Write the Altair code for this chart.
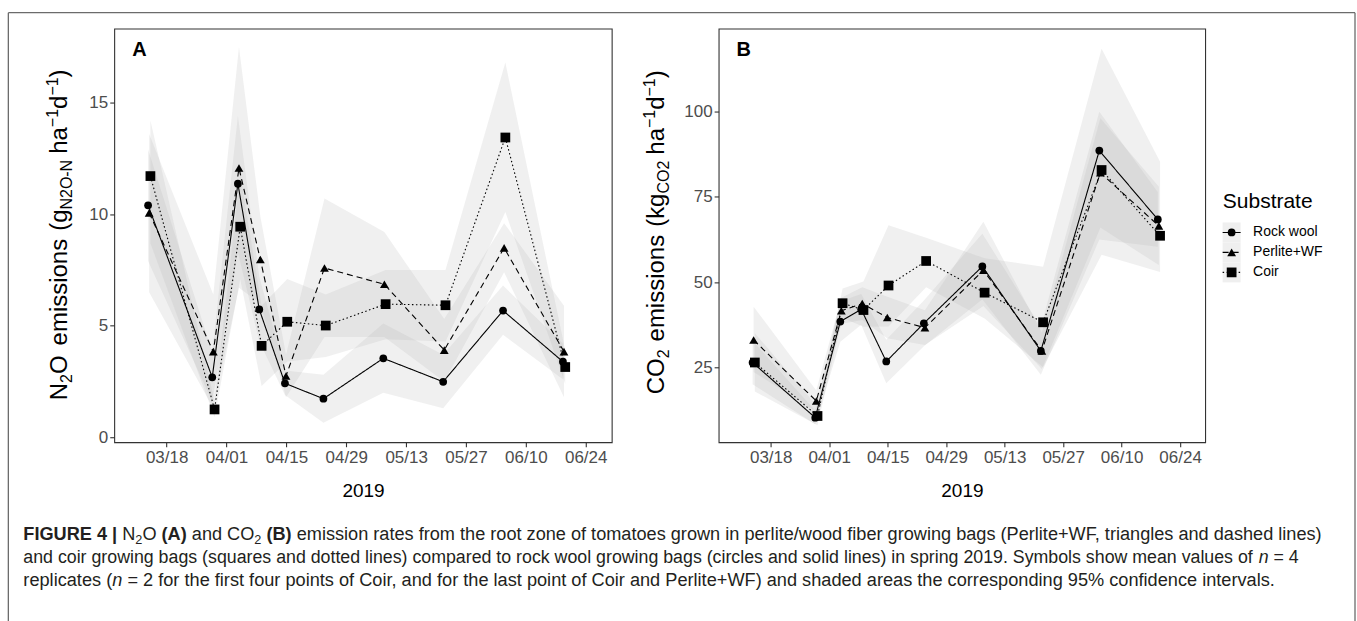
import altair as alt
import pandas as pd

# ---------------- data ----------------
SERIES = ["Rock wool", "Perlite+WF", "Coir"]
SAMPLE_DATES = ["2019-03-14", "2019-03-29", "2019-04-04", "2019-04-09", "2019-04-15",
                "2019-04-24", "2019-05-08", "2019-05-22", "2019-06-05", "2019-06-19"]
TICK_DATES = [(3, 18), (4, 1), (4, 15), (4, 29), (5, 13), (5, 27), (6, 10), (6, 24)]

# Panel A: N2O (g N2O-N ha-1 d-1)
N2O_MEAN = {
    "Rock wool":  [10.40, 2.69, 11.37, 5.73, 2.42, 1.73, 3.54, 2.49, 5.68, 3.39],
    "Perlite+WF": [10.06, 3.84, 12.07, 7.97, 2.75, 7.59, 6.86, 3.91, 8.49, 3.84],
    "Coir":       [11.71, 1.25, 9.44, 4.10, 5.18, 5.01, 5.97, 5.92, 13.44, 3.15],
}
N2O_LO = {
    "Rock wool":  [7.9, 1.6, 8.3, 4.3, 1.9, 0.65, 2.0, 1.3, 4.6, 2.6],
    "Perlite+WF": [6.5, 1.3, 6.7, 6.0, 1.8, 4.5, 4.5, 2.5, 7.4, 1.8],
    "Coir":       [8.7, 0.9, 7.1, 2.3, 3.4, 3.6, 4.4, 4.3, 10.1, 2.4],
}
N2O_HI = {
    "Rock wool":  [12.9, 3.8, 14.4, 7.2, 3.0, 2.8, 5.1, 3.7, 6.8, 4.2],
    "Perlite+WF": [13.6, 6.4, 17.5, 9.9, 3.7, 10.7, 9.2, 5.3, 9.6, 5.9],
    "Coir":       [14.2, 1.6, 11.8, 5.9, 7.1, 6.4, 7.5, 7.5, 16.8, 3.9],
}

# Panel B: CO2 (kg CO2 ha-1 d-1)
CO2_MEAN = {
    "Rock wool":  [26.4, 10.2, 38.4, 42.0, 26.7, 37.9, 54.6, 29.8, 88.6, 68.4],
    "Perlite+WF": [33.0, 15.1, 41.6, 43.7, 39.6, 36.6, 53.5, 29.8, 82.1, 66.5],
    "Coir":       [26.4, 10.7, 43.8, 41.8, 49.0, 56.2, 46.9, 38.2, 82.9, 63.6],
}
CO2_LO = {
    "Rock wool":  [20.0, 8.3, 32.5, 37.5, 20.3, 31.2, 45.0, 22.8, 62.5, 60.4],
    "Perlite+WF": [23.6, 12.0, 37.8, 38.9, 33.5, 31.5, 43.0, 24.5, 66.0, 55.0],
    "Coir":       [17.9, 8.0, 39.5, 36.9, 37.0, 48.5, 39.3, 25.0, 58.0, 53.0],
}
CO2_HI = {
    "Rock wool":  [32.8, 12.2, 44.3, 46.5, 33.1, 44.6, 64.2, 36.8, 100.0, 76.4],
    "Perlite+WF": [42.8, 18.2, 45.4, 48.5, 45.7, 41.7, 67.7, 35.1, 98.1, 78.0],
    "Coir":       [35.0, 13.4, 48.1, 50.2, 66.7, 63.0, 57.0, 54.5, 118.5, 85.3],
}

A_YTICKS = [0, 5, 10, 15]
B_YTICKS = [25, 50, 75, 100]

CAPTION_LINES = [
    [("FIGURE 4 |", "b"), (" N", "r"), ("2", "sub"), ("O", "r"), (" (A)", "b"),
     (" and CO", "r"), ("2", "sub"), (" (B)", "b"),
     (" emission rates from the root zone of tomatoes grown in perlite/wood fiber growing bags "
      "(Perlite+WF, triangles and dashed lines)", "r")],
    [("and coir growing bags (squares and dotted lines) compared to rock wool growing bags "
      "(circles and solid lines) in spring 2019. Symbols show mean values of", "r"),
     (" n", "i"), (" = 4", "r")],
    [("replicates (", "r"), ("n", "i"),
     (" = 2 for the first four points of Coir, and for the last point of Coir and Perlite+WF) "
      "and shaded areas the corresponding 95% confidence intervals.", "r")],
]

# ---------------- styling / layout ----------------
FONT = "Liberation Sans"
DODGE_HOURS = {"Rock wool": -8, "Perlite+WF": -2, "Coir": 5}
DASHES = [[1, 0], [6, 4], [1.5, 2.5]]
SHAPES = ["circle", "triangle-up", "square"]
SIZES = [60, 95, 56]
PLOT_H = 414
A_LEFT, A_TOP = 113, 27     # page position of panel A's plot area
B_LEFT = 718
CAP_SIZES = [18.17, 17.8, 18.2]

# Arial / Liberation Sans advance widths (1/1000 em) for text layout
W = {' ': 278, '!': 278, '%': 889, '(': 333, ')': 333, '+': 584, ',': 278, '-': 333, '.': 278,
     '/': 278, ':': 278, '=': 584, '|': 260, '\u2212': 584,
     'A': 667, 'B': 667, 'C': 722, 'D': 722, 'E': 667, 'F': 611, 'G': 778, 'H': 722, 'I': 278,
     'J': 500, 'K': 667, 'L': 556, 'M': 833, 'N': 722, 'O': 778, 'P': 667, 'Q': 778, 'R': 722,
     'S': 667, 'T': 611, 'U': 722, 'V': 667, 'W': 944, 'X': 667, 'Y': 667, 'Z': 611,
     'a': 556, 'b': 556, 'c': 500, 'd': 556, 'e': 556, 'f': 278, 'g': 556, 'h': 556, 'i': 222,
     'j': 222, 'k': 500, 'l': 222, 'm': 833, 'n': 556, 'o': 556, 'p': 556, 'q': 556, 'r': 333,
     's': 500, 't': 278, 'u': 556, 'v': 500, 'w': 722, 'x': 500, 'y': 500, 'z': 500}
for _c in "0123456789":
    W[_c] = 556
WB = dict(W)
WB.update({'A': 722, 'B': 722, '|': 280})


def text_width(s, size, bold=False):
    tab = WB if bold else W
    return sum(tab.get(c, 556) for c in s) / 1000.0 * size


def make_frame(mean, lo, hi):
    rows = []
    for s in SERIES:
        for i, d in enumerate(SAMPLE_DATES):
            t = pd.Timestamp(d) + pd.Timedelta(hours=DODGE_HOURS[s])
            rows.append({"Substrate": s, "date": t.strftime("%Y-%m-%dT%H:%M:%S"),
                         "value": mean[s][i], "lo": lo[s][i], "hi": hi[s][i]})
    return pd.DataFrame(rows)


ONE = pd.DataFrame({"k": [0]})


def text_piece(txt, x, y, size, angle=0, weight="normal", style="normal",
               align="left", color="black"):
    kw = dict(text=txt, fontSize=size, font=FONT, align=align, baseline="alphabetic",
              fontWeight=weight, fontStyle=style, color=color)
    if angle:
        kw["angle"] = angle
    return alt.Chart(ONE).mark_text(**kw).encode(x=alt.value(x), y=alt.value(y))


def rotated_title(pieces, start_y, base_x, size=24, small=16):
    """pieces: (text, kind) kind in r / sub / sup / gap(n px)"""
    out = []
    y = start_y
    for txt, kind in pieces:
        if kind == "gap":
            y -= txt
            continue
        fs = size if kind == "r" else small
        shift = {"r": 0, "sub": 5, "sup": -9}[kind]
        out.append(text_piece(txt, base_x + shift, y, fs, angle=270))
        y -= text_width(txt, fs)
    return out


def caption_layers(lines, x0, baselines, sizes, color="#231f20"):
    out = []
    for segs, yb, size in zip(lines, baselines, sizes):
        x = x0
        for txt, kind in segs:
            bold = kind == "b"
            fs = size * 0.7 if kind == "sub" else size
            yy = yb + size * 0.22 if kind == "sub" else yb
            lead = len(txt) - len(txt.lstrip(" "))
            x += text_width(" " * lead, fs, bold)
            body = txt.lstrip(" ")
            out.append(text_piece(body, x, yy, fs,
                                  weight="bold" if bold else "normal",
                                  style="italic" if kind == "i" else "normal", color=color))
            x += text_width(body, fs, bold)
    return out


def xenc(xdom):
    return alt.X("date:T",
                 scale=alt.Scale(domain=xdom, nice=False),
                 axis=alt.Axis(values=[alt.DateTime(year=2019, month=m, date=d) for m, d in TICK_DATES],
                               format="%m/%d", title="2019"))


def data_layers(df, ydom, yticks, xdom):
    x = xenc(xdom)
    yscale = alt.Scale(domain=ydom, nice=False, zero=False)
    yaxis = alt.Axis(values=yticks, title=None)
    base = alt.Chart(df)
    ribbons = base.mark_area(fill="#b3b3b3", fillOpacity=0.2, strokeWidth=0).encode(
        x=x, y=alt.Y("lo:Q", scale=yscale, axis=yaxis), y2="hi:Q", detail="Substrate:N")
    lines = base.mark_line(color="black", strokeWidth=1.1).encode(
        x=x, y=alt.Y("value:Q", scale=yscale, axis=yaxis),
        strokeDash=alt.StrokeDash("Substrate:N", scale=alt.Scale(domain=SERIES, range=DASHES), legend=None))
    points = base.mark_point(filled=True, color="black", opacity=1).encode(
        x=x, y=alt.Y("value:Q", scale=yscale, axis=yaxis),
        shape=alt.Shape("Substrate:N", scale=alt.Scale(domain=SERIES, range=SHAPES), legend=None),
        size=alt.Size("Substrate:N", scale=alt.Scale(domain=SERIES, range=SIZES), legend=None))
    return [ribbons, lines, points]


dfA = make_frame(N2O_MEAN, N2O_LO, N2O_HI)
dfB = make_frame(CO2_MEAN, CO2_LO, CO2_HI)

A_TITLE = [("N", "r"), ("2", "sub"), ("O", "r"), (10, "gap"), ("emissions", "r"), (8, "gap"),
           ("(g", "r"), ("N2O-N", "sub"), (6, "gap"), ("ha", "r"), ("\u22121", "sup"), ("d", "r"),
           ("\u22121", "sup"), (")", "r")]
B_TITLE = [("C", "r"), ("O", "r"), ("2", "sub"), (8, "gap"), ("emissions", "r"), (8, "gap"),
           ("(k", "r"), ("g", "r"), ("CO2", "sub"), (6, "gap"), ("ha", "r"), ("\u22121", "sup"), ("d", "r"),
           ("\u22121", "sup"), (")", "r")]

# ---- panel A (also hosts the caption and the outer frame) ----
capA = caption_layers(CAPTION_LINES, 22 - A_LEFT, [539 - A_TOP, 562 - A_TOP, 585 - A_TOP], CAP_SIZES)
FRAME = "#6b6b6b"
frame = [
    alt.Chart(ONE).mark_rule(color=FRAME, strokeWidth=1.3).encode(
        x=alt.value(7 - A_LEFT), y=alt.value(11 - A_TOP), y2=alt.value(621 - A_TOP)),
    alt.Chart(ONE).mark_rule(color=FRAME, strokeWidth=1.3).encode(
        x=alt.value(7 - A_LEFT), x2=alt.value(1355 - A_LEFT), y=alt.value(11 - A_TOP)),
    alt.Chart(ONE).mark_rule(color=FRAME, strokeWidth=1.3).encode(
        x=alt.value(1355 - A_LEFT), y=alt.value(11 - A_TOP), y2=alt.value(621 - A_TOP)),
]
panelA = alt.layer(
    *data_layers(dfA, [-0.22, 18.32], A_YTICKS,
                 [alt.DateTime(year=2019, month=3, date=5, hours=18),
                  alt.DateTime(year=2019, month=6, date=30, hours=2)]),
    text_piece("A", 18, 27, 20, weight="bold"),
    *rotated_title(A_TITLE, 399 - A_TOP, 66 - A_LEFT),
    *capA, *frame,
).properties(width=498, height=PLOT_H)

# ---- panel B with its legend ----
leg_df = pd.DataFrame({"Substrate": SERIES})
ly = alt.Y("Substrate:N", scale=alt.Scale(type="point", domain=SERIES, range=[204, 244], padding=0),
           axis=None)
KX = 1231.5 - B_LEFT
leg_keys = alt.Chart(leg_df).mark_point(shape="M-0.9,-1H0.9V1H-0.9Z", filled=True, color="#efefef",
                                         size=400, opacity=1).encode(x=alt.value(KX), y=ly)
leg_lines = alt.Chart(leg_df).mark_rule(color="black", strokeWidth=1.1).encode(
    x=alt.value(KX - 9), x2=alt.value(KX + 9), y=ly,
    strokeDash=alt.StrokeDash("Substrate:N", scale=alt.Scale(domain=SERIES, range=DASHES), legend=None))
leg_pts = alt.Chart(leg_df).mark_point(filled=True, color="black", opacity=1).encode(
    x=alt.value(KX), y=ly,
    shape=alt.Shape("Substrate:N", scale=alt.Scale(domain=SERIES, range=SHAPES), legend=None),
    size=alt.Size("Substrate:N", scale=alt.Scale(domain=SERIES, range=SIZES), legend=None))
leg_txt = alt.Chart(leg_df).mark_text(align="left", baseline="middle", fontSize=14, font=FONT,
                                       color="black").encode(x=alt.value(1253 - B_LEFT), y=ly,
                                                              text="Substrate:N")
legend = alt.layer(leg_keys, leg_lines, leg_pts, leg_txt,
                   text_piece("Substrate", 1222.7 - B_LEFT, 207 - A_TOP, 21))

panelB_main = alt.layer(
    *data_layers(dfB, [3.0, 124.4], B_YTICKS,
                 [alt.DateTime(year=2019, month=3, date=5, hours=13),
                  alt.DateTime(year=2019, month=6, date=30, hours=0)]),
    text_piece("B", 18, 27, 20, weight="bold"),
    *rotated_title(B_TITLE, 393 - A_TOP, 663 - B_LEFT),
)
panelB = alt.layer(panelB_main, legend).resolve_scale(y="independent").properties(
    width=487, height=PLOT_H)

chart = alt.hconcat(panelA, panelB, spacing=B_LEFT - A_LEFT - 498, bounds="flush").properties(
    padding={"left": 6.35, "top": 10.35, "right": 0, "bottom": 0},
    background="white",
).configure(font=FONT).configure_view(
    stroke="#333333", strokeWidth=1.1
).configure_axis(
    grid=False, domain=False, tickColor="#333333", tickWidth=1.1, tickSize=4.5,
    labelFont=FONT, labelFontSize=17, labelColor="#4d4d4d",
    titleFont=FONT, titleFontSize=19, titleFontWeight="normal", titleColor="black",
).configure_axisX(labelPadding=3, titlePadding=16).configure_axisY(labelPadding=2)

chart.save("out.html", embed_options={"renderer": "svg", "actions": False})
